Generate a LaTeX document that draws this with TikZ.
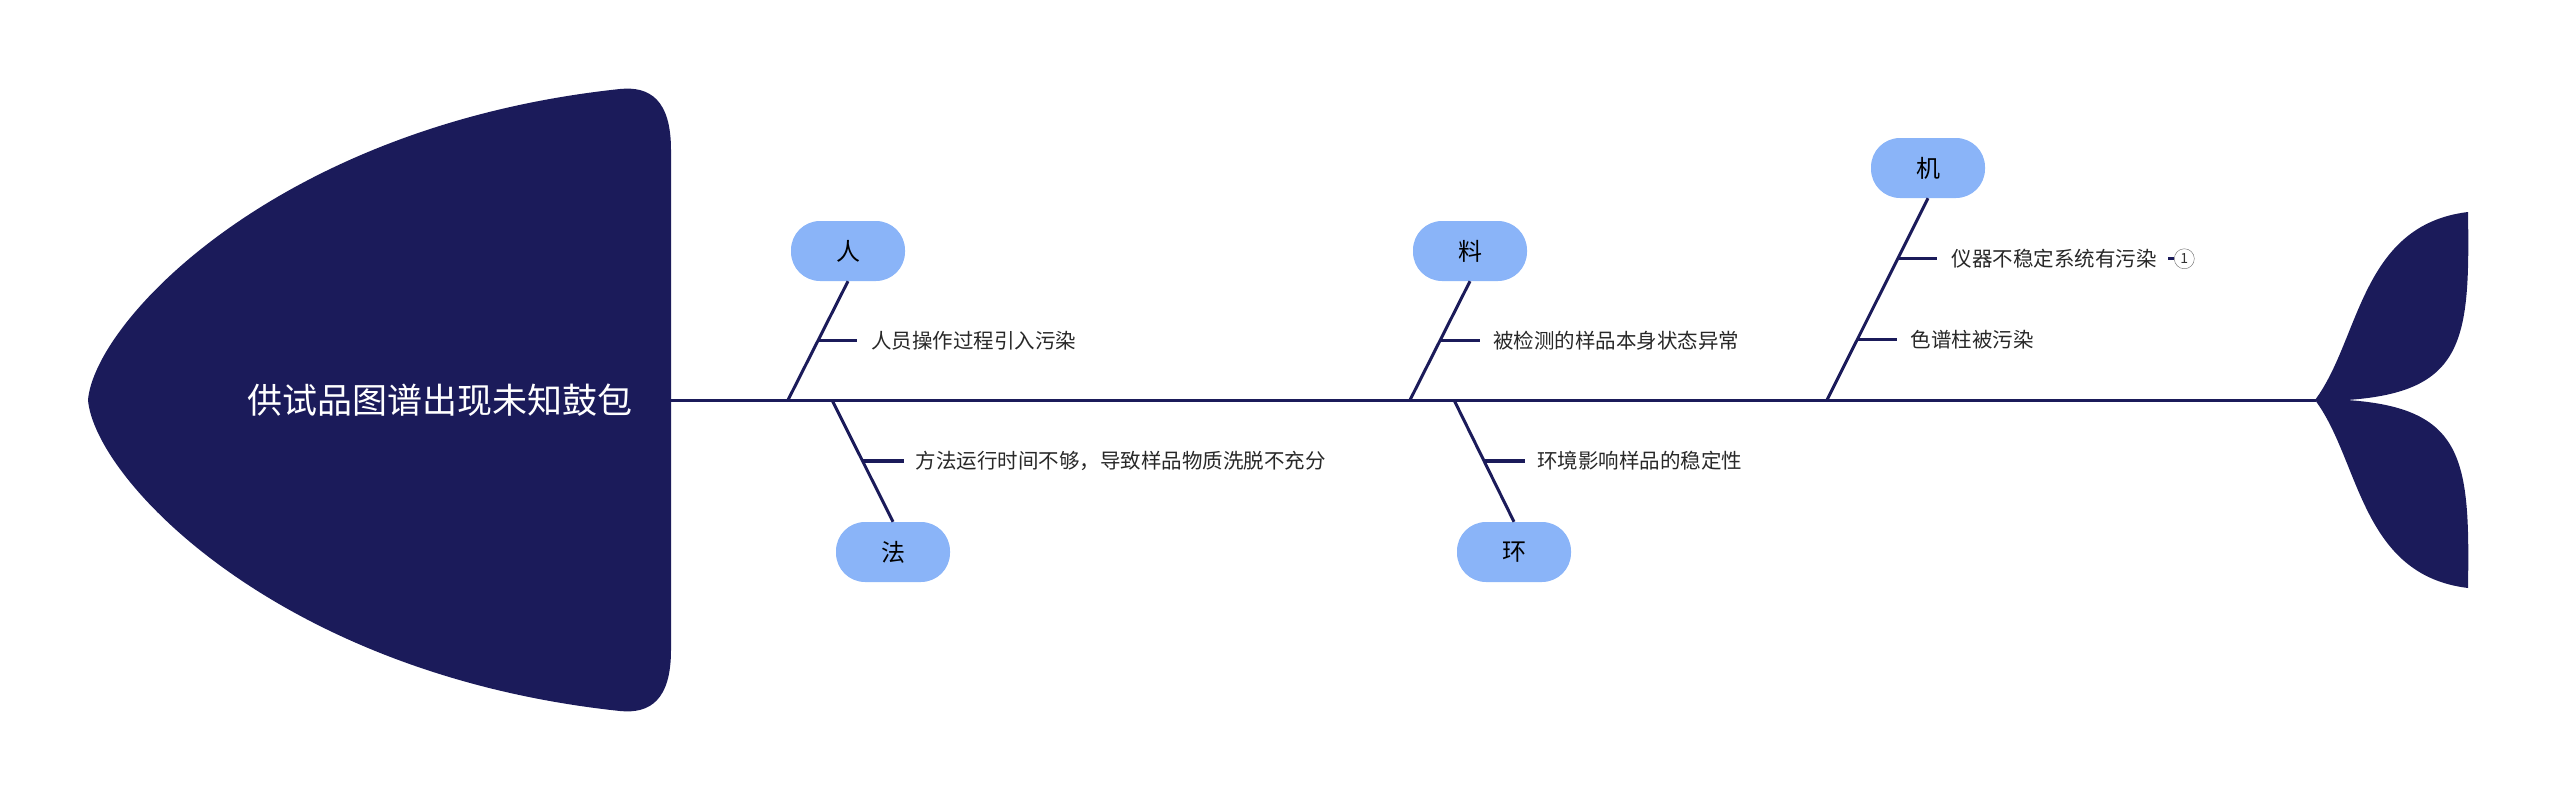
\documentclass[tikz,border=0pt]{standalone}
\usepackage{fontspec}
\setmainfont{Noto Sans CJK SC}
\usepackage{xcolor}
\usetikzlibrary{positioning}
\definecolor{fishnavy}{RGB}{27,27,90}
\definecolor{causeblue}{RGB}{138,180,248}
\definecolor{itemgray}{RGB}{40,40,40}

\begin{document}
\begin{tikzpicture}[
    x=1pt, y=-1pt,
    cause/.style={
      fill=causeblue, rounded corners=29pt,
      minimum width=114pt, minimum height=60pt,
      inner sep=0pt, font=\fontsize{24}{24}\selectfont
    },
    item/.style={
      anchor=west, inner sep=0pt, text=itemgray,
      font=\fontsize{20.5}{20.5}\selectfont
    },
    bone/.style={draw=fishnavy, line width=3pt},
    tick/.style={draw=fishnavy, line width=3.5pt},
    >=latex
  ]
    \useasboundingbox (0,0) rectangle (2560,803);

    % Head
    \fill[fishnavy] (88,400) .. controls (95,320) and (280,125) .. (620,89)
      .. controls (650,86) and (671,100) .. (671,150) -- (671,650)
      .. controls (671,700) and (650,714) .. (620,711)
      .. controls (280,675) and (95,480) .. (88,400) -- cycle;
    \node[text=white, font=\fontsize{35}{35}\selectfont] (title) at (440,400) {供试品图谱出现未知鼓包};

    % Tail
    \fill[fishnavy] (2315,400) .. controls (2360,340) and (2360,225) .. (2468,212)
      .. controls (2470,340) and (2465,392) .. (2347,400) -- cycle;
    \fill[fishnavy] (2315,400) .. controls (2360,460) and (2360,575) .. (2468,588)
      .. controls (2470,460) and (2465,408) .. (2347,400) -- cycle;

    % Spine
    \coordinate (spineL) at (671,400);
    \coordinate (spineR) at (2316,400);
    \draw[bone] (spineL) -- (spineR);

    % Causes
    \node[cause] (ren)  at (848,251)  {人};
    \node[cause] (fa)   at (893,552)  {法};
    \node[cause] (liao) at (1470,251) {料};
    \node[cause] (huan) at (1514,552) {环};
    \node[cause] (ji)   at (1928,168) {机};

    % Bones
    \coordinate (renR)  at (788,400);
    \coordinate (faR)   at (832,400);
    \coordinate (liaoR) at (1410,400);
    \coordinate (huanR) at (1454,400);
    \coordinate (jiR)   at (1827,400);
    \draw[bone] (renR)  -- (ren.south)  coordinate[pos=0.5] (ren1);
    \draw[bone] (faR)   -- (fa.north)   coordinate[pos=0.5] (fa1);
    \draw[bone] (liaoR) -- (liao.south) coordinate[pos=0.5] (liao1);
    \draw[bone] (huanR) -- (huan.north) coordinate[pos=0.5] (huan1);
    \draw[bone] (jiR)   -- (ji.south)   coordinate[pos=0.3] (ji1) coordinate[pos=0.7] (ji2);

    % Items
    \node[item, right=53pt of ren1]  (ren1t)  {人员操作过程引入污染};
    \node[item, right=53pt of fa1]   (fa1t)   {方法运行时间不够，导致样品物质洗脱不充分};
    \node[item, right=53pt of liao1] (liao1t) {被检测的样品本身状态异常};
    \node[item, right=53pt of huan1] (huan1t) {环境影响样品的稳定性};
    \node[item, right=53pt of ji1]   (ji1t)   {色谱柱被污染};
    \node[item, right=54pt of ji2]   (ji2t)   {仪器不稳定系统有污染};
    \node[draw=gray!80!black, circle, inner sep=0pt, minimum size=20pt, text=gray!40!black,
      font=\fontsize{14}{14}\selectfont, right=17pt of ji2t] (ji2n) {1};

    \draw[tick] (ren1)  -- ([xshift=-14pt]ren1t.west);
    \draw[tick] (fa1)   -- ([xshift=-12pt]fa1t.west);
    \draw[tick] (liao1) -- ([xshift=-13pt]liao1t.west);
    \draw[tick] (huan1) -- ([xshift=-12pt]huan1t.west);
    \draw[tick] (ji1)   -- ([xshift=-13pt]ji1t.west);
    \draw[tick] (ji2)   -- ([xshift=-15pt]ji2t.west);
    \draw[fishnavy, line width=3pt] ([xshift=-6pt]ji2n.west) -- (ji2n.west);

  \end{tikzpicture}
\end{document}
